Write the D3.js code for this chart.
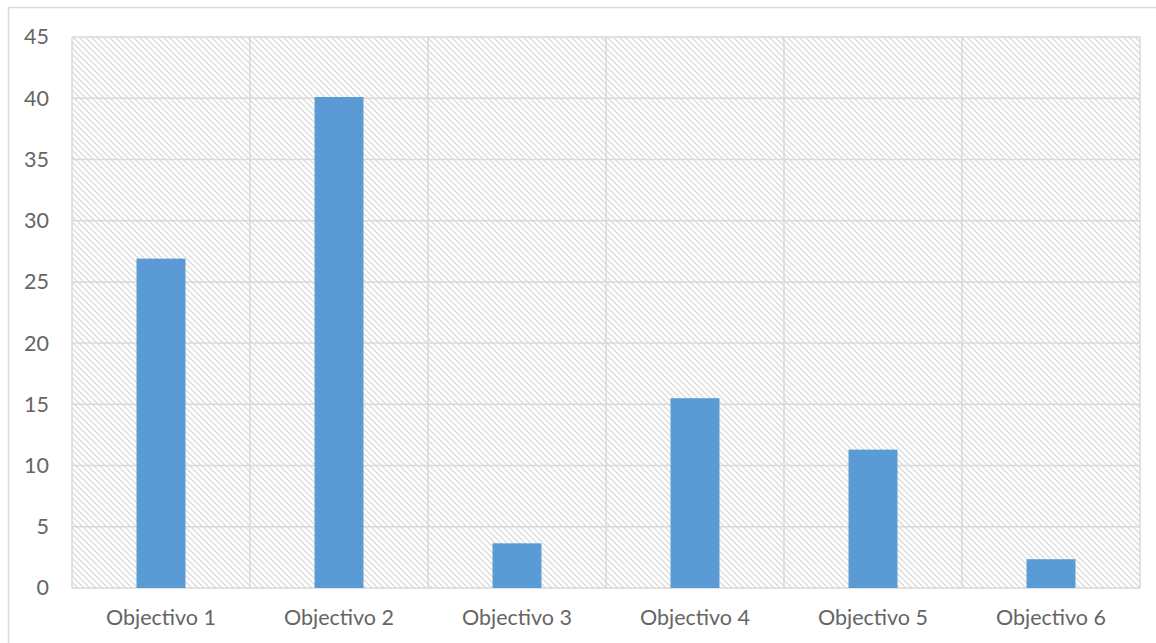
<!DOCTYPE html>
<html>
<head>
<meta charset="utf-8">
<script src="https://cdn.jsdelivr.net/npm/d3@7"></script>
<style>
  body { margin: 0; background: #fff; }
  svg { display: block; }
</style>
</head>
<body>
<div id="chart"></div>
<script>
const categories = ["Objectivo 1", "Objectivo 2", "Objectivo 3", "Objectivo 4", "Objectivo 5", "Objectivo 6"]
const values = [26.9, 40.1, 3.65, 15.5, 11.3, 2.35]
const yTicks = [0, 5, 10, 15, 20, 25, 30, 35, 40, 45]

const width = 1156, height = 643
const margin = {top: 37, right: 16, bottom: 55, left: 72}

let svg = d3.select("#chart").append("svg")
    .attr("width", width)
    .attr("height", height)

// light hatch used as the plot background
let defs = svg.append("defs")
let pat = defs.append("pattern")
    .attr("id", "hatch")
    .attr("patternUnits", "userSpaceOnUse")
    .attr("width", 6)
    .attr("height", 6)
pat.append("rect").attr("width", 6).attr("height", 6).attr("fill", "white")
pat.append("path")
    .attr("d", "M-1,-1 L7,7 M-4,2 L1,7 M2,-4 L7,1")
    .attr("stroke", "#dcdcdc")
    .attr("stroke-width", 1.4)

// outer chart border
svg.append("rect")
    .attr("x", 8.5).attr("y", 7.5)
    .attr("width", width + 10).attr("height", height + 10)
    .attr("fill", "none")
    .attr("stroke", "#d9d9d9")
    .attr("stroke-width", 1.5)

let x = d3.scaleBand()
    .domain(categories)
    .range([margin.left, width - margin.right])
    .padding(0)

let y = d3.scaleLinear()
    .domain([0, 45])
    .range([height - margin.bottom, margin.top])

svg.append("rect")
    .attr("x", margin.left)
    .attr("y", margin.top)
    .attr("width", x.range()[1] - margin.left)
    .attr("height", y(0) - margin.top)
    .attr("fill", "url(#hatch)")

// horizontal grid
svg.append("g")
    .selectAll("line")
    .data(yTicks)
    .enter().append("line")
    .attr("x1", margin.left)
    .attr("x2", x.range()[1])
    .attr("y1", d => y(d))
    .attr("y2", d => y(d))
    .attr("stroke", "#d9d9d9")
    .attr("stroke-width", 1.5)

// vertical grid at category boundaries
let bounds = categories.map(c => x(c)).concat([x.range()[1]])
svg.append("g")
    .selectAll("line")
    .data(bounds)
    .enter().append("line")
    .attr("x1", d => d)
    .attr("x2", d => d)
    .attr("y1", margin.top)
    .attr("y2", y(0))
    .attr("stroke", "#d9d9d9")
    .attr("stroke-width", 1.5)

// bars
let barW = x.bandwidth() * 0.275
svg.append("g")
    .selectAll("rect")
    .data(values)
    .enter().append("rect")
    .attr("x", (d, i) => x(categories[i]) + x.bandwidth() / 2 - barW / 2)
    .attr("y", d => y(d))
    .attr("width", barW)
    .attr("height", d => y(0) - y(d))
    .attr("fill", "#5b9bd5")

// y axis labels
let yAxis = d3.axisLeft(y).tickValues(yTicks).tickSize(0).tickPadding(0)
let yg = svg.append("g")
    .attr("transform", `translate(${49},0)`)
    .call(yAxis)
yg.select(".domain").remove()
yg.selectAll("text")
    .attr("font-family", "Lato, sans-serif")
    .attr("font-size", 21.5)
    .attr("fill", "#656565")

// x axis labels
let xAxis = d3.axisBottom(x).tickSize(0).tickPadding(0)
let xg = svg.append("g")
    .attr("transform", `translate(0,${y(0) + 22})`)
    .call(xAxis)
xg.select(".domain").remove()
xg.selectAll("text")
    .attr("font-family", "Lato, sans-serif")
    .attr("font-size", 21.5)
    .attr("fill", "#656565")
</script>
</body>
</html>
